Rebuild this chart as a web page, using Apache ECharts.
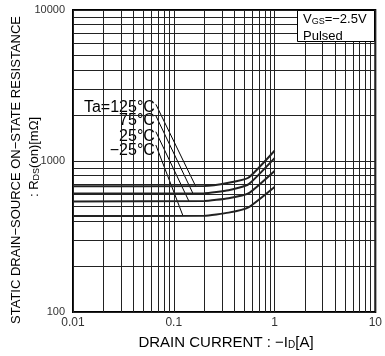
<!DOCTYPE html>
<html>
<head>
<meta charset="utf-8">
<script src="https://cdn.jsdelivr.net/npm/echarts@6/dist/echarts.min.js"></script>
<style>
    html, body { margin: 0; padding: 0; background: #fff; }
    #chart { width: 385px; height: 356px; }
</style>
</head>
<body>
<div id="chart"></div>
<script>
    // drain current [A] and on-resistance [mOhm]
    const currentA = [0.01, 0.2, 0.35, 0.55, 1.0];
    const r125 = [680, 683, 718, 775, 1170];
    const r75 = [610, 612, 640, 700, 1045];
    const r25 = [540, 543, 567, 610, 860];
    const rm25 = [432, 434, 455, 493, 673];

    const tempLabels = ['Ta=125°C', '75°C', '25°C', '−25°C'];
    // leader lines: label anchor -> point on curve
    const leaderStart = [[0.0664, 2374], [0.0664, 1995], [0.0664, 1563], [0.0664, 1276]];
    const leaderEnd = [[0.165, 680], [0.155, 610], [0.1417, 540], [0.1236, 432]];
    const labelShift = [3, 5, 5, 6];

    const xTickLabels = ['0.01', '0.1', '1', '10'];
    const yTickLabels = ['100', '1000', '10000'];
    const xDecades = [0.01, 0.1, 1];
    const yDecades = [100, 1000];
    const minorSteps = [2, 3, 4, 5, 6, 7, 8, 9];

    const FONT = 'Liberation Sans, Arial, sans-serif';
    const gridColor = '#222';

    let minorX = [];
    xDecades.forEach(d => minorSteps.forEach(m => minorX.push({ xAxis: d * m })));
    let minorY = [];
    yDecades.forEach(d => minorSteps.forEach(m => minorY.push({ yAxis: d * m })));

    function pairs(ys) {
        return currentA.map((x, i) => [x, ys[i]]);
    }

    const curveStyle = { color: '#222', width: 2 };

    let series = [
        {
            type: 'line',
            silent: true,
            data: [],
            markLine: {
                silent: true,
                symbol: ['none', 'none'],
                label: { show: false },
                lineStyle: { color: gridColor, width: 1, type: 'solid' },
                data: minorX.concat(minorY)
            }
        }
    ];

    [r125, r75, r25, rm25].forEach(ys => {
        series.push({
            type: 'line',
            data: pairs(ys),
            showSymbol: false,
            smooth: 0.15,
            lineStyle: curveStyle,
            z: 5
        });
    });

    leaderStart.forEach((s, i) => {
        series.push({
            type: 'line',
            data: [
                {
                    value: s,
                    label: {
                        show: true,
                        position: 'left',
                        distance: 1,
                        offset: [0, labelShift[i]],
                        formatter: tempLabels[i],
                        fontFamily: FONT,
                        fontSize: 16,
                        color: '#000'
                    }
                },
                leaderEnd[i]
            ],
            symbol: 'circle',
            symbolSize: 0,
            lineStyle: { color: '#000', width: 1 },
            z: 4
        });
    });

    const option = {
        animation: false,
        grid: {
            left: 73, right: 9, top: 10, bottom: 44,
            show: true,
            borderColor: '#000',
            borderWidth: 2
        },
        xAxis: {
            type: 'log',
            logBase: 10,
            min: 0.01,
            max: 10,
            axisLine: { show: false },
            axisTick: { show: false },
            splitLine: { show: true, lineStyle: { color: gridColor, width: 1 } },
            axisLabel: {
                margin: 5,
                fontFamily: FONT,
                fontSize: 12,
                color: '#333',
                formatter: v => xTickLabels[Math.round(Math.log10(v)) + 2]
            }
        },
        yAxis: {
            type: 'log',
            logBase: 10,
            min: 100,
            max: 10000,
            axisLine: { show: false },
            axisTick: { show: false },
            splitLine: { show: true, lineStyle: { color: gridColor, width: 1 } },
            axisLabel: {
                margin: 8,
                fontFamily: FONT,
                fontSize: 11,
                color: '#333',
                formatter: v => yTickLabels[Math.round(Math.log10(v)) - 2]
            }
        },
        graphic: [
            {
                type: 'rect',
                z: 100,
                zlevel: 1,
                shape: { x: 297.5, y: 10.5, width: 77, height: 31 },
                style: { fill: '#fff', stroke: '#000', lineWidth: 1 }
            },
            {
                type: 'text',
                z: 101,
                zlevel: 1,
                x: 303, y: 19,
                style: {
                    text: '{m|V}{s|GS}{m|=−2.5V}',
                    verticalAlign: 'middle',
                    rich: {
                        m: { fontFamily: FONT, fontSize: 13, fill: '#000', verticalAlign: 'bottom', lineHeight: 14 },
                        s: { fontFamily: FONT, fontSize: 9, fill: '#000', verticalAlign: 'bottom', lineHeight: 14 }
                    }
                }
            },
            {
                type: 'text',
                z: 101,
                zlevel: 1,
                x: 303, y: 36,
                style: {
                    text: 'Pulsed',
                    font: '13px ' + FONT,
                    fill: '#000',
                    verticalAlign: 'middle'
                }
            },
            {
                type: 'text',
                x: 226, y: 342,
                style: {
                    text: '{m|DRAIN CURRENT : −I}{s|D}{m|[A]}',
                    align: 'center',
                    verticalAlign: 'middle',
                    rich: {
                        m: { fontFamily: FONT, fontSize: 15, fill: '#000', verticalAlign: 'bottom', lineHeight: 16 },
                        s: { fontFamily: FONT, fontSize: 10, fill: '#000', verticalAlign: 'bottom', lineHeight: 16 }
                    }
                }
            },
            {
                type: 'text',
                x: 16, y: 170,
                rotation: Math.PI / 2,
                style: {
                    text: 'STATIC DRAIN−SOURCE ON−STATE RESISTANCE',
                    font: '13px ' + FONT,
                    fill: '#000',
                    align: 'center',
                    verticalAlign: 'middle'
                }
            },
            {
                type: 'text',
                x: 34, y: 157,
                rotation: Math.PI / 2,
                style: {
                    text: '{m|: R}{s|DS}{m|(on)[mΩ]}',
                    align: 'center',
                    verticalAlign: 'middle',
                    rich: {
                        m: { fontFamily: FONT, fontSize: 13, fill: '#000', verticalAlign: 'bottom', lineHeight: 14 },
                        s: { fontFamily: FONT, fontSize: 9, fill: '#000', verticalAlign: 'bottom', lineHeight: 14 }
                    }
                }
            }
        ],
        series: series
    };

    const myChart = echarts.init(document.getElementById('chart'));
    myChart.setOption(option);
    window.addEventListener('resize', myChart.resize);
</script>
</body>
</html>
